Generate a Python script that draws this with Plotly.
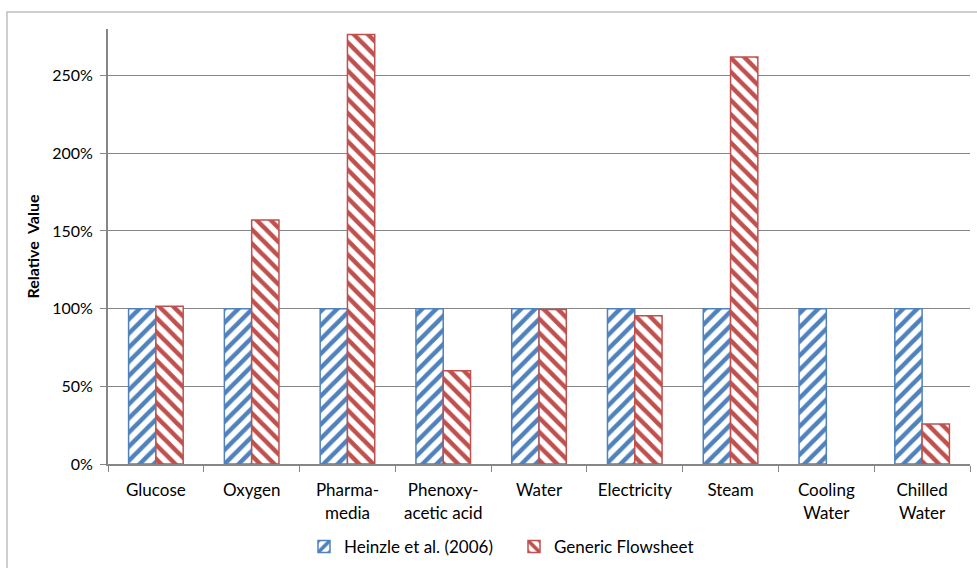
import plotly.graph_objects as go

categories = ["Glucose", "Oxygen", "Pharma-<br>media", "Phenoxy-<br>acetic acid", "Water",
              "Electricity", "Steam", "Cooling<br>Water", "Chilled<br>Water"]
heinzle = [1.00, 1.00, 1.00, 1.00, 1.00, 1.00, 1.00, 1.00, 1.00]
generic = [1.015, 1.57, 2.765, 0.60, 0.995, 0.955, 2.62, None, 0.257]
tick_vals = [0, 0.5, 1.0, 1.5, 2.0, 2.5]

BLUE = "#4F81BD"
RED = "#C0504D"
FONT = "Lato"

fig = go.Figure()
fig.add_trace(go.Bar(
    x=categories, y=heinzle, name="Heinzle et al. (2006)",
    marker=dict(color="white", line=dict(color=BLUE, width=1.5),
                pattern=dict(shape="/", fgcolor=BLUE, bgcolor="white", fgopacity=1,
                             size=10, solidity=0.45)),
))
fig.add_trace(go.Bar(
    x=categories, y=generic, name="Generic Flowsheet",
    marker=dict(color="white", line=dict(color=RED, width=1.5),
                pattern=dict(shape="\\", fgcolor=RED, bgcolor="white", fgopacity=1,
                             size=10, solidity=0.45)),
))

fig.update_layout(
    width=977, height=568,
    margin=dict(l=108, r=7, t=29, b=104),
    paper_bgcolor="white", plot_bgcolor="white",
    barmode="group", bargap=0.43, bargroupgap=0.0,
    font=dict(family=FONT, size=16, color="black"),
    legend=dict(orientation="h", x=0.471, xanchor="center", yref="container", y=0.037,
                yanchor="middle", font=dict(size=17), itemwidth=30, entrywidth=165,
                traceorder="normal"),
    showlegend=True,
)
fig.update_xaxes(
    type="category", showline=True, linecolor="#868686", linewidth=2,
    ticks="outside", tickson="boundaries", ticklen=6, tickcolor="#868686",
    showgrid=False, tickfont=dict(size=17, family=FONT), ticklabelstandoff=10,
)
fig.update_yaxes(
    range=[0, 2.8], tickvals=tick_vals, tickformat=".0%",
    showline=True, linecolor="#868686", linewidth=2,
    ticks="outside", ticklen=6, tickcolor="#868686",
    showgrid=True, gridcolor="#868686", gridwidth=1,
    zeroline=False, tickfont=dict(size=16, family=FONT), ticklabelstandoff=4,
    title=dict(text="<b>Relative  Value</b>", font=dict(size=16, family=FONT), standoff=9),
)
fig.add_shape(type="rect", xref="paper", yref="paper",
              x0=-0.1172, x1=1.2, y0=-0.5, y1=1.039,
              line=dict(color="#BFBFBF", width=1.5), fillcolor="rgba(0,0,0,0)", layer="below")

fig.write_html("out.html", config={"displayModeBar": False},
               post_script="document.body.style.margin='0px';")
